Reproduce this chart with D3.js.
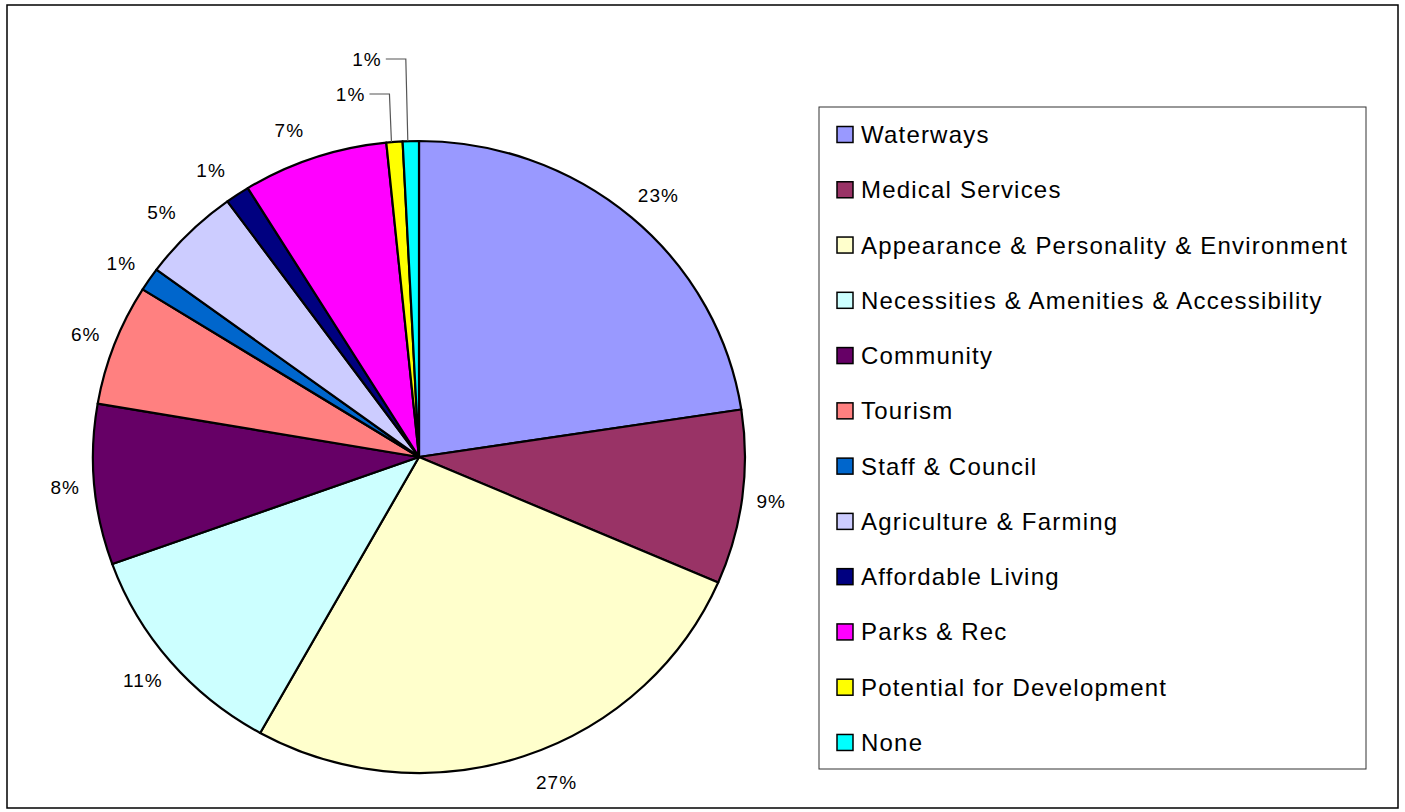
<!DOCTYPE html>
<html>
<head>
<meta charset="utf-8">
<script src="https://cdn.jsdelivr.net/npm/d3@7"></script>
<style>
  html, body { margin: 0; padding: 0; background: #fff; }
  svg { display: block; }
  text { font-family: "Liberation Sans", Arial, sans-serif; fill: #000; }
</style>
</head>
<body>
<svg id="chart" width="1405" height="812"></svg>
<script>
const categories = [
  "Waterways",
  "Medical Services",
  "Appearance & Personality & Environment",
  "Necessities & Amenities & Accessibility",
  "Community",
  "Tourism",
  "Staff & Council",
  "Agriculture & Farming",
  "Affordable Living",
  "Parks & Rec",
  "Potential for Development",
  "None"
];
const values = [22.6, 8.9, 26.6, 11.4, 8.2, 6.2, 1.2, 4.9, 1.2, 7.2, 0.8, 0.8];
const colors = ["#9999FF", "#993366", "#FFFFCC", "#CCFFFF", "#660066", "#FF8080",
                "#0066CC", "#CCCCFF", "#000080", "#FF00FF", "#FFFF00", "#00FFFF"];
const leaderCategories = ["Potential for Development", "None"];

const data = categories.map((c, i) => ({ name: c, value: values[i], color: colors[i] }));
const total = d3.sum(values);
const fmt = d3.format(".0%");

const svg = d3.select("#chart");

// outer chart frame
svg.append("rect")
  .attr("x", 7).attr("y", 5).attr("width", 1391).attr("height", 803)
  .attr("fill", "#fff").attr("stroke", "#000").attr("stroke-width", 1.5);

// pie geometry (slightly elliptical as in the original)
const cx = 419, cy = 457, rx = 326, ry = 316;
const pie = d3.pie().sort(null).value(d => d.value);
const arcs = pie(data);
const arc = d3.arc().innerRadius(0).outerRadius(rx);

const g = svg.append("g")
  .attr("transform", `translate(${cx},${cy}) scale(1,${ry / rx})`);

g.selectAll("path.slice")
  .data(arcs)
  .join("path")
  .attr("class", "slice")
  .attr("d", arc)
  .attr("fill", d => d.data.color)
  .attr("stroke", "#000")
  .attr("stroke-width", 2.2)
  .attr("vector-effect", "non-scaling-stroke")
  .attr("stroke-linejoin", "round");

// labels
const labelFont = 19;
const labels = svg.append("g");
arcs.forEach((d, i) => {
  const th = (d.startAngle + d.endAngle) / 2;
  const s = Math.sin(th), c = Math.cos(th);
  const ex = cx + rx * s, ey = cy - ry * c;
  const txt = fmt(d.data.value / total);
  const li = leaderCategories.indexOf(d.data.name);
  if (li >= 0) {
    const rise = [47, 82][li];
    const ly = cy - ry - rise;
    const x0 = ex - 3, x1 = ex - 5, x2 = ex - 25;
    labels.append("path")
      .attr("d", d3.line()([[x0, ey], [x1, ly], [x2, ly]]))
      .attr("fill", "none").attr("stroke", "#555").attr("stroke-width", 1.2);
    labels.append("text")
      .attr("x", x2 - 4).attr("y", ly)
      .attr("text-anchor", "end").attr("dominant-baseline", "central")
      .attr("font-size", labelFont).attr("letter-spacing", 1.1)
      .text(txt);
    return;
  }
  let lx = ex + (s >= 0 ? 1 : -1) * (23 + 6 * Math.abs(s));
  let ly = ey - 29 * c;
  if (ly > 782) { ly = 782; lx += 8; }
  labels.append("text")
    .attr("x", lx).attr("y", ly)
    .attr("text-anchor", "middle").attr("dominant-baseline", "central")
    .attr("font-size", labelFont).attr("letter-spacing", 1.1)
    .text(txt);
});

// legend
const legX = 819, legY = 107, legW = 547, legH = 662;
const legend = svg.append("g");
legend.append("rect")
  .attr("x", legX).attr("y", legY).attr("width", legW).attr("height", legH)
  .attr("fill", "#fff").attr("stroke", "#333").attr("stroke-width", 1);

const ly0 = 134.5, lstep = 55.27;
const items = legend.selectAll("g.item")
  .data(data)
  .join("g")
  .attr("class", "item")
  .attr("transform", (d, i) => `translate(${legX + 18},${ly0 + i * lstep})`);
items.append("rect")
  .attr("x", 0).attr("y", -8).attr("width", 16).attr("height", 16)
  .attr("fill", d => d.color).attr("stroke", "#000").attr("stroke-width", 1.5);
items.append("text")
  .attr("x", 24).attr("y", 0)
  .attr("dominant-baseline", "central")
  .attr("font-size", 24).attr("letter-spacing", 1.2)
  .text(d => d.name);
</script>
</body>
</html>
